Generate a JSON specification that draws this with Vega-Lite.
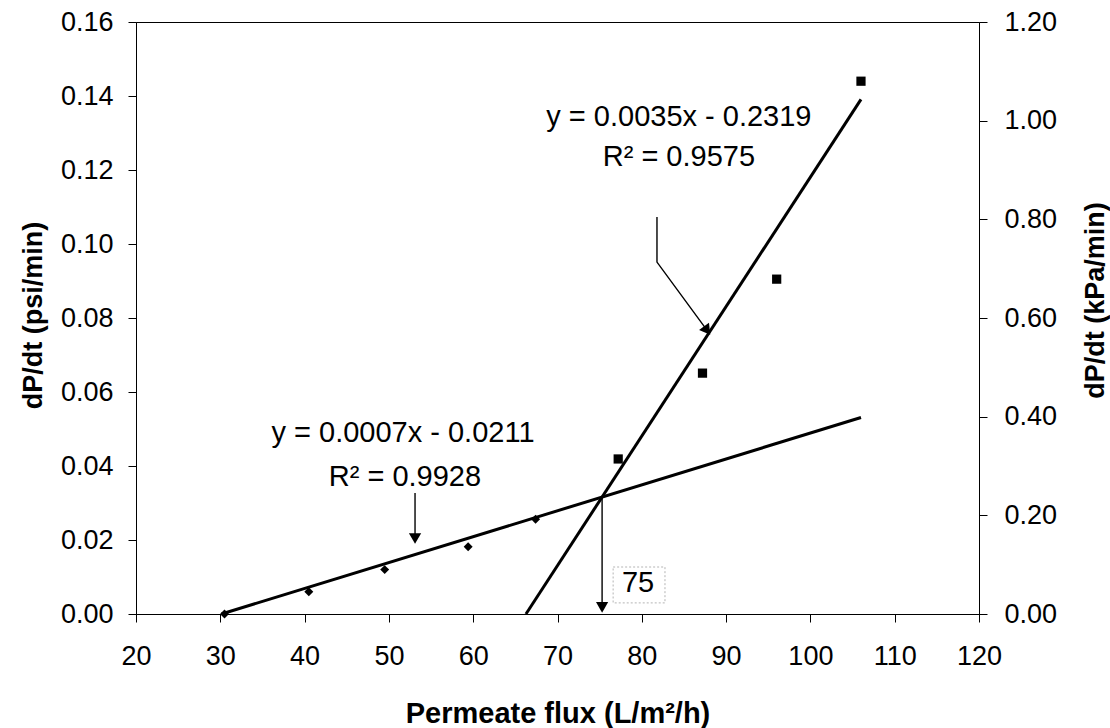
{
  "$schema": "https://vega.github.io/schema/vega-lite/v6.json",
  "width": 843,
  "height": 592,
  "autosize": {"type": "none"},
  "padding": {"left": 136, "top": 22, "right": 131, "bottom": 114},
  "background": "white",
  "config": {
    "font": "Liberation Sans",
    "view": {"stroke": "black", "strokeWidth": 1},
    "axis": {
      "grid": false,
      "domainColor": "black",
      "tickColor": "black",
      "labelColor": "black",
      "titleColor": "black",
      "labelFont": "Liberation Sans",
      "labelFontSize": 27,
      "labelFlush": false,
      "labelOverlap": false,
      "titleFont": "Liberation Sans",
      "titleFontSize": 27,
      "titleFontWeight": "bold",
      "tickSize": 8
    }
  },
  "datasets": {
    "measured": [
      {"series": "low", "flux": 30.5, "dpdt": 0.0},
      {"series": "low", "flux": 40.5, "dpdt": 0.006},
      {"series": "low", "flux": 49.5, "dpdt": 0.012},
      {"series": "low", "flux": 59.4, "dpdt": 0.0182},
      {"series": "low", "flux": 67.4, "dpdt": 0.0256},
      {"series": "high", "flux": 77.2, "dpdt": 0.0419},
      {"series": "high", "flux": 87.2, "dpdt": 0.0651},
      {"series": "high", "flux": 96.0, "dpdt": 0.0905},
      {"series": "high", "flux": 106.0, "dpdt": 0.144}
    ],
    "fits": [
      {"line": "low", "flux": 30.14, "dpdt": 0.0},
      {"line": "low", "flux": 106.0, "dpdt": 0.0531},
      {"line": "high", "flux": 66.26, "dpdt": 0.0},
      {"line": "high", "flux": 106.0, "dpdt": 0.1391}
    ],
    "pointers": [
      {"arrow": "low", "step": 1, "flux": 53.1, "dpdt": 0.0327},
      {"arrow": "low", "step": 2, "flux": 53.1, "dpdt": 0.0195},
      {"arrow": "high", "step": 1, "flux": 81.8, "dpdt": 0.1073},
      {"arrow": "high", "step": 2, "flux": 81.8, "dpdt": 0.0951},
      {"arrow": "high", "step": 3, "flux": 87.9, "dpdt": 0.0762},
      {"arrow": "cross", "step": 1, "flux": 75.29, "dpdt": 0.0316},
      {"arrow": "cross", "step": 2, "flux": 75.29, "dpdt": 0.002}
    ],
    "downHeads": [
      {"flux": 53.1, "dpdt": 0.0204},
      {"flux": 75.29, "dpdt": 0.0018}
    ],
    "slantHead": [
      {"flux": 87.75, "dpdt": 0.0766}
    ],
    "notes": [
      {"flux": 51.67, "dpdt": 0.0489, "text": "y = 0.0007x - 0.0211"},
      {"flux": 51.9, "dpdt": 0.037, "text": "R² = 0.9928"},
      {"flux": 84.4, "dpdt": 0.1343, "text": "y = 0.0035x - 0.2319"},
      {"flux": 84.4, "dpdt": 0.1235, "text": "R² = 0.9575"},
      {"flux": 79.55, "dpdt": 0.0084, "text": "75"}
    ],
    "box": [
      {"flux": 76.6, "flux2": 82.75, "dpdt": 0.003, "dpdt2": 0.0127}
    ],
    "kpa": [
      {"kpa": 0.0},
      {"kpa": 1.2}
    ]
  },
  "layer": [
    {
      "layer": [
        {
          "data": {"name": "fits"},
          "mark": {"type": "line", "color": "black", "strokeWidth": 3},
          "encoding": {
            "x": {
              "field": "flux",
              "type": "quantitative",
              "scale": {"domain": [20, 120], "nice": false, "zero": false},
              "axis": {
                "title": "Permeate flux (L/m²/h)",
                "values": [20, 30, 40, 50, 60, 70, 80, 90, 100, 110, 120],
                "labelPadding": 21,
                "titleFontSize": 29,
                "titleX": 421.5,
                "titleY": 99,
                "titleAlign": "center",
                "titleBaseline": "middle"
              }
            },
            "y": {
              "field": "dpdt",
              "type": "quantitative",
              "scale": {"domain": [0, 0.16], "nice": false},
              "axis": {
                "title": "dP/dt (psi/min)",
                "orient": "left",
                "values": [0, 0.02, 0.04, 0.06, 0.08, 0.1, 0.12, 0.14, 0.16],
                "format": ".2f",
                "labelPadding": 15,
                "titleAngle": 270,
                "titleX": -103,
                "titleY": 293,
                "titleAlign": "center",
                "titleBaseline": "middle"
              }
            },
            "detail": {"field": "line", "type": "nominal"}
          }
        },
        {
          "data": {"name": "measured"},
          "transform": [{"filter": "datum.series === 'low'"}],
          "mark": {"type": "point", "shape": "diamond", "filled": true, "color": "black", "size": 80, "opacity": 1},
          "encoding": {
            "x": {"field": "flux", "type": "quantitative"},
            "y": {"field": "dpdt", "type": "quantitative"}
          }
        },
        {
          "data": {"name": "measured"},
          "transform": [{"filter": "datum.series === 'high'"}],
          "mark": {"type": "point", "shape": "square", "filled": true, "color": "black", "size": 85, "opacity": 1},
          "encoding": {
            "x": {"field": "flux", "type": "quantitative"},
            "y": {"field": "dpdt", "type": "quantitative"}
          }
        },
        {
          "data": {"name": "pointers"},
          "mark": {"type": "line", "color": "black", "strokeWidth": 1.4},
          "encoding": {
            "x": {"field": "flux", "type": "quantitative"},
            "y": {"field": "dpdt", "type": "quantitative"},
            "detail": {"field": "arrow", "type": "nominal"},
            "order": {"field": "step", "type": "quantitative"}
          }
        },
        {
          "data": {"name": "downHeads"},
          "mark": {"type": "point", "shape": "triangle-down", "filled": true, "color": "black", "size": 150, "opacity": 1},
          "encoding": {
            "x": {"field": "flux", "type": "quantitative"},
            "y": {"field": "dpdt", "type": "quantitative"}
          }
        },
        {
          "data": {"name": "slantHead"},
          "mark": {"type": "point", "shape": "triangle-up", "filled": true, "color": "black", "size": 150, "opacity": 1, "angle": 144},
          "encoding": {
            "x": {"field": "flux", "type": "quantitative"},
            "y": {"field": "dpdt", "type": "quantitative"}
          }
        },
        {
          "data": {"name": "box"},
          "mark": {"type": "rect", "fill": null, "stroke": "#b4b4b4", "strokeWidth": 1, "strokeDash": [2, 2]},
          "encoding": {
            "x": {"field": "flux", "type": "quantitative"},
            "x2": {"field": "flux2"},
            "y": {"field": "dpdt", "type": "quantitative"},
            "y2": {"field": "dpdt2"}
          }
        },
        {
          "data": {"name": "notes"},
          "mark": {"type": "text", "font": "Liberation Sans", "fontSize": 29, "color": "black", "align": "center", "baseline": "middle"},
          "encoding": {
            "x": {"field": "flux", "type": "quantitative"},
            "y": {"field": "dpdt", "type": "quantitative"},
            "text": {"field": "text"}
          }
        }
      ]
    },
    {
      "data": {"name": "kpa"},
      "mark": {"type": "point", "opacity": 0},
      "encoding": {
        "y": {
          "field": "kpa",
          "type": "quantitative",
          "scale": {"domain": [0, 1.2], "nice": false},
          "axis": {
            "title": "dP/dt (kPa/min)",
            "orient": "right",
            "values": [0, 0.2, 0.4, 0.6, 0.8, 1.0, 1.2],
            "format": ".2f",
            "labelPadding": 17,
            "titleAngle": 270,
            "titleX": 116,
            "titleY": 278,
            "titleAlign": "center",
            "titleBaseline": "middle"
          }
        }
      }
    }
  ],
  "resolve": {"scale": {"y": "independent"}}
}
